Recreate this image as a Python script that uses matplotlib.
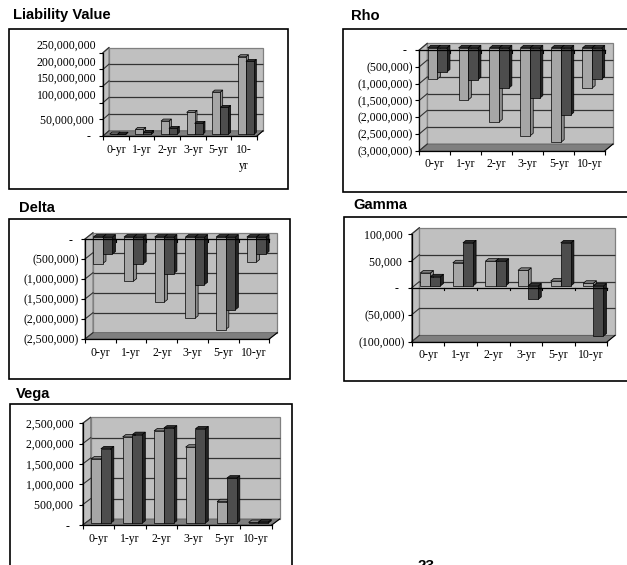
import matplotlib
matplotlib.use("Agg")
import matplotlib.pyplot as plt
from matplotlib.patches import Polygon, Rectangle
from matplotlib.transforms import ScaledTranslation, Affine2D

W, H = 627, 565
DPI = 100

categories = ["0-yr", "1-yr", "2-yr", "3-yr", "5-yr", "10-yr"]

liability_light = [1e6, 15e6, 40e6, 66e6, 127e6, 233e6]
liability_dark = [0.5e6, 6e6, 18e6, 33e6, 81e6, 219e6]
liability_ticks = [0, 50e6, 100e6, 150e6, 200e6, 250e6]
liability_labels = ["-  ", "50,000,000 ", "100,000,000", "150,000,000", "200,000,000", "250,000,000"]

rho_light = [-0.93e6, -1.55e6, -2.21e6, -2.62e6, -2.81e6, -1.2e6]
rho_dark = [-0.72e6, -0.95e6, -1.2e6, -1.5e6, -2.0e6, -0.93e6]
rho_ticks = [0, -0.5e6, -1e6, -1.5e6, -2e6, -2.5e6, -3e6]
rho_labels = ["-  ", "(500,000)", "(1,000,000)", "(1,500,000)", "(2,000,000)", "(2,500,000)", "(3,000,000)"]

delta_light = [-0.66e6, -1.1e6, -1.625e6, -2.03e6, -2.31e6, -0.625e6]
delta_dark = [-0.425e6, -0.675e6, -0.91e6, -1.19e6, -1.82e6, -0.42e6]
delta_ticks = [0, -0.5e6, -1e6, -1.5e6, -2e6, -2.5e6]
delta_labels = ["-  ", "(500,000)", "(1,000,000)", "(1,500,000)", "(2,000,000)", "(2,500,000)"]

gamma_light = [24e3, 43e3, 46e3, 29e3, 9e3, 5e3]
gamma_dark = [17e3, 80e3, 46e3, -25e3, 80e3, -93e3]
gamma_ticks = [100e3, 50e3, 0, -50e3, -100e3]
gamma_labels = ["100,000 ", "50,000 ", "-  ", "(50,000)", "(100,000)"]

vega_light = [1.58e6, 2.12e6, 2.27e6, 1.87e6, 0.53e6, 0.02e6]
vega_dark = [1.83e6, 2.18e6, 2.34e6, 2.32e6, 1.11e6, 0.03e6]
vega_ticks = [0, 0.5e6, 1e6, 1.5e6, 2e6, 2.5e6]
vega_labels = ["-  ", "500,000 ", "1,000,000 ", "1,500,000 ", "2,000,000 ", "2,500,000 "]

WALL = "#C0C0C0"
FLOOR = "#7F7F7F"
GRID = "#333333"
LIGHT = ("#A6A6A6", "#8C8C8C", "#808080")
DARK = ("#4D4D4D", "#222222", "#2B2B2B")
SERIF = "Liberation Serif"

fig = plt.figure(figsize=(W / DPI, H / DPI), dpi=DPI, facecolor="white")
px = Affine2D().scale(1 / W, -1 / H).translate(0, 1) + fig.transFigure


def panel(title, title_xy, frame, plot, depth, light, dark, ticks, labels, cats,
          label_shift=None):
    fx0, fy0, fx1, fy1 = frame
    fig.add_artist(Rectangle((fx0, fy0), fx1 - fx0, fy1 - fy0, transform=px, fc="white",
                             ec="black", lw=1.2, zorder=0))
    fig.text(title_xy[0], title_xy[1], title, transform=px, family="Liberation Sans",
             weight="bold", fontsize=10.6, va="center", ha="left", color="black")

    x0, y0, x1, y1 = plot
    ax = fig.add_axes([x0 / W, 1 - y1 / H, (x1 - x0) / W, (y1 - y0) / H], zorder=2)
    ax.patch.set_visible(False)
    ymin, ymax = min(ticks), max(ticks)
    ax.set_xlim(0, len(cats))
    ax.set_ylim(ymin, ymax)
    for s in ("top", "right"):
        ax.spines[s].set_visible(False)
    for s in ("left", "bottom"):
        ax.spines[s].set_linewidth(0.9)
        ax.spines[s].set_zorder(20)

    n = len(cats)
    ddx = depth[0] / (x1 - x0) * n
    ddy = depth[1] / (y1 - y0) * (ymax - ymin)

    def poly(pts, fc, ec="none", lw=0.0, z=1):
        ax.add_patch(Polygon(pts, closed=True, fc=fc, ec=ec, lw=lw, zorder=z, clip_on=False))

    # walls and floor
    poly([(ddx, ymin + ddy), (n + ddx, ymin + ddy), (n + ddx, ymax + ddy), (ddx, ymax + ddy)],
         WALL, "#808080", 0.9)
    poly([(0, ymin), (ddx, ymin + ddy), (ddx, ymax + ddy), (0, ymax)], WALL, "#808080", 0.9)
    poly([(0, ymin), (n, ymin), (n + ddx, ymin + ddy), (ddx, ymin + ddy)], FLOOR, "#555555", 0.5)

    # gridlines on back and side walls
    for t in ticks:
        if t != ymin and t != ymax:
            ax.plot([ddx, n + ddx], [t + ddy, t + ddy], color=GRID, lw=0.9, zorder=1.5,
                    clip_on=False, solid_capstyle="butt")
        ax.plot([0, ddx], [t, t + ddy], color=GRID, lw=0.8, zorder=1.5, clip_on=False)
    ax.plot([n, n + ddx], [ymin, ymin + ddy], color="black", lw=0.8, zorder=1.6, clip_on=False)

    # bars
    bw, d0, d1 = 0.31, 0.3, 0.7
    base = 0.0
    z = 3.0
    for i in range(n):
        for j, (vals, cols) in enumerate(((light, LIGHT), (dark, DARK))):
            v = vals[i]
            xa = i + 0.19 + j * bw + d0 * ddx
            xb = xa + bw
            ya = base + d0 * ddy
            yb = v + d0 * ddy
            sx, sy = (d1 - d0) * ddx, (d1 - d0) * ddy
            top = max(ya, yb)
            low = min(ya, yb)
            top_col = cols[2] if v >= 0 else "#303030"
            poly([(xb, low), (xb + sx, low + sy), (xb + sx, top + sy), (xb, top)],
                 cols[1], "black", 0.5, z)
            poly([(xa, top), (xb, top), (xb + sx, top + sy), (xa + sx, top + sy)],
                 top_col, "black", 0.5, z)
            ax.bar(xa, top - low, bw, bottom=low, align="edge", color=cols[0], edgecolor="black",
                   linewidth=0.5, zorder=z, clip_on=False)
            z += 0.01

    # front zero line with its ticks
    if ymin < 0:
        ax.plot([0, n], [0, 0], color="black", lw=0.9, zorder=10, clip_on=False)
        for i in range(1, n + 1):
            ax.plot([i, i], [0, -2.5 / (y1 - y0) * (ymax - ymin)], color="black", lw=0.8,
                    zorder=10, clip_on=False)

    # axes ticks
    ax.set_yticks(ticks)
    ax.set_yticklabels(labels, family=SERIF, fontsize=8.5)
    ax.tick_params(axis="y", length=3, width=0.8, pad=1.6, color="black")
    ax.set_xticks(range(n + 1))
    ax.set_xticklabels([])
    ax.set_xticks([i + 0.5 for i in range(n)], minor=True)
    ax.set_xticklabels(cats, minor=True, family=SERIF, fontsize=8.5, linespacing=1.45, va="top")
    ax.tick_params(axis="x", which="major", length=3, width=0.8)
    ax.tick_params(axis="x", which="minor", length=0, pad=5.5)
    if label_shift:
        for tl, s in zip(ax.get_yticklabels(), label_shift):
            tl.set_transform(tl.get_transform() + ScaledTranslation(0, s / DPI, fig.dpi_scale_trans))


panel("Liability Value", (13, 14.5), (9, 29, 288, 188.5), (103, 52.7, 257, 136), (6, 5.2),
      liability_light, liability_dark, liability_ticks, liability_labels,
      ["0-yr", "1-yr", "2-yr", "3-yr", "5-yr", "10-\nyr"],
      label_shift=[0, 0, 8.8, 8.8, 8.6, 8.7])
panel("Rho", (351, 16), (343, 29, 640, 191.5), (419.3, 50, 605, 150.7), (8, 6.7),
      rho_light, rho_dark, rho_ticks, rho_labels, categories)
panel("Delta", (18.7, 207.7), (9, 219, 290, 379), (85, 239, 269.3, 339), (8, 6.3),
      delta_light, delta_dark, delta_ticks, delta_labels, categories)
panel("Gamma", (353.5, 205), (343.5, 217.3, 640, 380.7), (411.7, 234, 607.3, 341.7), (7.7, 6.3),
      gamma_light, gamma_dark, gamma_ticks, gamma_labels, categories)
panel("Vega", (15.7, 394), (10, 404, 291.7, 600), (82.7, 423.3, 271.7, 525), (8, 6),
      vega_light, vega_dark, vega_ticks, vega_labels, categories)

fig.text(426.5, 559.5, "23", transform=px, family="Liberation Sans", weight="bold",
         fontsize=11, ha="center", va="top", color="black")

fig.savefig("out.png", dpi=DPI)
